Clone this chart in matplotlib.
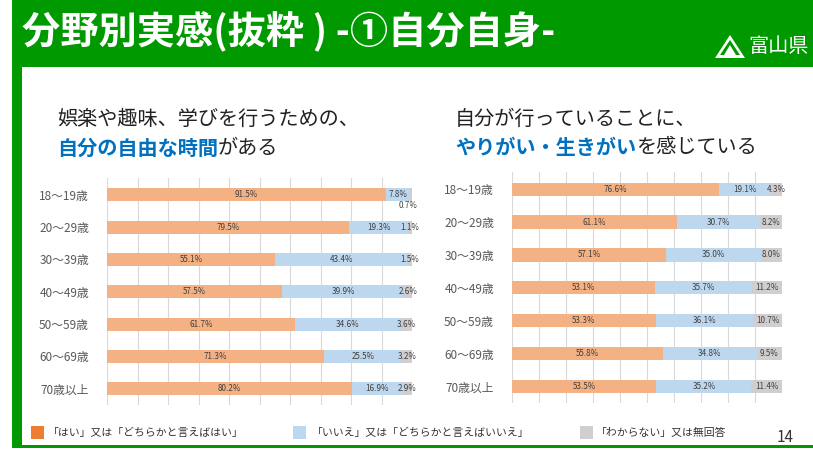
import matplotlib
matplotlib.use("Agg")
import matplotlib.pyplot as plt
from matplotlib.patches import Rectangle, Polygon
import numpy as np

plt.rcParams['font.family'] = ['Noto Sans CJK JP', 'DejaVu Sans']

# データ
年代 = ["18～19歳", "20～29歳", "30～39歳", "40～49歳", "50～59歳", "60～69歳", "70歳以上"]

時間_はい = [91.5, 79.5, 55.1, 57.5, 61.7, 71.3, 80.2]
時間_いいえ = [7.8, 19.3, 43.4, 39.9, 34.6, 25.5, 16.9]
時間_不明 = [0.7, 1.1, 1.5, 2.6, 3.6, 3.2, 2.9]

生きがい_はい = [76.6, 61.1, 57.1, 53.1, 53.3, 55.8, 53.5]
生きがい_いいえ = [19.1, 30.7, 35.0, 35.7, 36.1, 34.8, 35.2]
生きがい_不明 = [4.3, 8.2, 8.0, 11.2, 10.7, 9.5, 11.4]

凡例 = ["「はい」又は「どちらかと言えばはい」", "「いいえ」又は「どちらかと言えばいいえ」", "「わからない」又は無回答"]

W, H = 813, 449
GREEN = "#009900"
BLUE_TXT = "#0070C0"
BAR_COLORS = ["#F4B183", "#BDD7EE", "#D0CECE"]
LEG_COLORS = ["#ED7D31", "#BDD7EE", "#D0CECE"]

fig = plt.figure(figsize=(W / 100, H / 100), dpi=100)

# 背景（ピクセル座標）
bg = fig.add_axes([0, 0, 1, 1])
bg.set_xlim(0, W)
bg.set_ylim(H, 0)
bg.axis("off")
bg.set_zorder(0)

bg.add_patch(Rectangle((12, 0), W - 12, 67, color=GREEN, lw=0))
bg.add_patch(Rectangle((12, 0), 10, 447, color=GREEN, lw=0))
bg.add_patch(Rectangle((12, 445), W - 12, 3, color=GREEN, lw=0))

bg.text(22, 32, "分野別実感(抜粋 ) -①自分自身-", color="white", fontsize=27.5,
        fontweight="bold", va="center", ha="left")

# 県のマーク
bg.add_patch(Polygon([(715, 58), (730, 35), (745, 58)], closed=True,
                     facecolor="white", edgecolor="none"))
bg.add_patch(Polygon([(720, 55), (730, 40), (740, 55)], closed=True,
                     facecolor=GREEN, edgecolor="none"))
bg.add_patch(Polygon([(724, 55), (730, 45), (736, 55)], closed=True,
                     facecolor="white", edgecolor="none"))
bg.text(748, 47, "富山県", color="white", fontsize=14.5, va="center", ha="left")

# 見出し
def 見出し(x, line1, blue, rest):
    bg.text(x, 119, line1, fontsize=14.5, color="#222222", va="center", ha="left")
    t = bg.text(x, 148, blue, fontsize=14.5, color=BLUE_TXT, fontweight="bold",
                va="center", ha="left")
    bg.annotate(rest, xy=(1, 0), xycoords=t, fontsize=14.5, color="#222222",
                va="bottom", ha="left")

見出し(57, "娯楽や趣味、学びを行うための、", "自分の自由な時間", "がある")
見出し(455, "自分が行っていることに、", "やりがい・生きがい", "を感じている")


def 帯グラフ(rect, はい, いいえ, 不明, small_below=None):
    x0, y0, x1, y1 = rect
    ax = fig.add_axes([x0 / W, 1 - y1 / H, (x1 - x0) / W, (y1 - y0) / H])
    ax.set_zorder(1)
    ax.patch.set_alpha(0)
    y = np.arange(len(年代))
    left = np.zeros(len(年代))
    for vals, c in zip([はい, いいえ, 不明], BAR_COLORS):
        vals = np.array(vals)
        ax.barh(y, vals, left=left, height=0.4, color=c, zorder=2)
        for i, v in enumerate(vals):
            cx = left[i] + v / 2
            cy = y[i]
            if small_below is not None and i == small_below and c == BAR_COLORS[2]:
                cx, cy = left[i] - 0.5, y[i] + 0.32
            ax.text(cx, cy, f"{v:.1f}%", fontsize=5.8, color="#404040",
                    ha="center", va="center", zorder=3)
        left = left + vals
    ax.set_xlim(0, 100)
    ax.set_ylim(6.5, -0.52)
    ax.set_xticks(np.arange(0, 101, 10))
    ax.set_xticklabels([])
    ax.set_yticks(y)
    ax.set_yticklabels(年代, fontsize=8.5, color="#595959")
    ax.tick_params(length=0, pad=13)
    ax.xaxis.grid(True, color="#D9D9D9", lw=0.8, zorder=0)
    ax.set_axisbelow(True)
    for s in ax.spines.values():
        s.set_visible(False)
    return ax


帯グラフ((107, 178, 412, 405), 時間_はい, 時間_いいえ, 時間_不明, small_below=0)
帯グラフ((512, 172, 782, 403), 生きがい_はい, 生きがい_いいえ, 生きがい_不明)

# 凡例
for (sx, tx), c, lab in zip([(31, 48), (293, 312), (580, 596)], LEG_COLORS, 凡例):
    bg.add_patch(Rectangle((sx, 426), 13, 13, color=c, lw=0))
    bg.text(tx, 433, lab, fontsize=7.8, color="#333333", va="center", ha="left")

bg.text(785, 437, "14", fontsize=11, color="#333333", va="center", ha="center")

fig.savefig("out.png", dpi=100)
